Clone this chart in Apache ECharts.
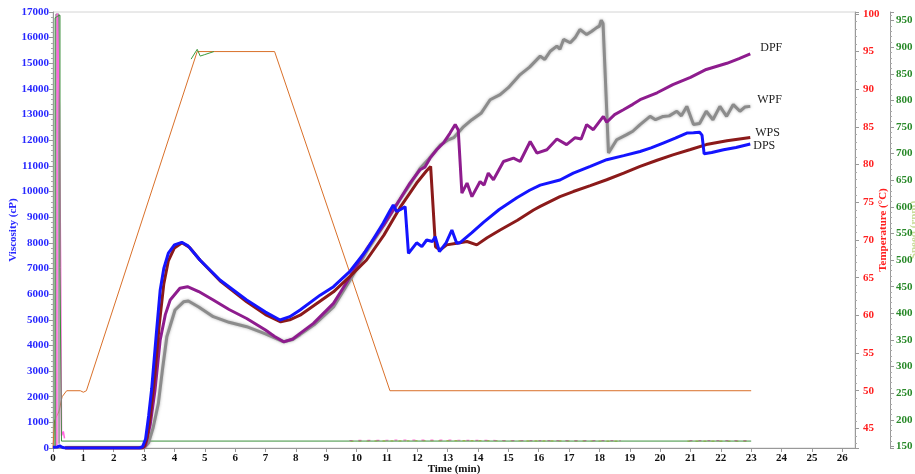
<!DOCTYPE html>
<html><head><meta charset="utf-8">
<script src="https://cdn.jsdelivr.net/npm/echarts@6/dist/echarts.min.js"></script>
<style>html,body{margin:0;padding:0;background:#fff}#c{width:915px;height:474px}</style>
</head><body><div id="c"></div>
<script>
// ---- data (time in min, viscosity in cP, temperature in °C, speed in rpm) ----
const xTicks = [0,1,2,3,4,5,6,7,8,9,10,11,12,13,14,15,16,17,18,19,20,21,22,23,24,25,26];

const DPS = [[0,30],[0.15,40],[0.22,80],[0.28,90],[0.32,20],[0.4,0],[2.85,0],[2.95,50],[3.05,350],[3.15,1250],[3.25,2300],[3.4,4400],[3.53,6150],[3.65,7000],[3.8,7600],[4.0,7920],[4.24,8020],[4.45,7880],[4.84,7330],[5.5,6550],[6.38,5770],[7.0,5300],[7.48,4990],[7.8,5120],[8.14,5380],[8.8,5960],[9.24,6290],[9.79,6900],[10.33,7720],[10.88,8770],[11.1,9250],[11.21,9480],[11.32,9220],[11.45,9300],[11.6,9410],[11.71,7590],[11.98,8000],[12.15,7850],[12.31,8110],[12.5,8050],[12.59,8240],[12.73,7660],[12.95,8000],[13.14,8500],[13.3,7980],[13.4,8000],[13.8,8400],[14.18,8800],[14.7,9300],[15.28,9760],[15.7,10050],[16.05,10250],[16.7,10450],[17.14,10720],[17.7,10980],[18.24,11240],[18.8,11400],[19.34,11560],[19.7,11700],[20.1,11890],[20.5,12080],[20.88,12280],[21.1,12290],[21.3,12310],[21.38,12200],[21.45,11470],[21.7,11520],[22.09,11630],[22.5,11720],[22.97,11850]];

const WPS = [[0.4,0],[2.9,0],[3.0,50],[3.1,400],[3.2,1200],[3.35,2800],[3.5,4800],[3.65,6400],[3.8,7300],[4.0,7800],[4.25,8000],[4.5,7820],[4.84,7330],[5.5,6520],[6.38,5700],[7.0,5200],[7.5,4920],[7.8,5000],[8.14,5180],[9.24,6090],[9.79,6700],[10.33,7330],[10.9,8300],[11.43,9370],[11.98,10330],[12.3,10800],[12.44,10980],[12.5,11000],[12.6,7850],[12.75,7720],[12.97,7920],[13.3,7980],[13.64,8050],[13.96,7920],[14.3,8200],[14.73,8500],[15.3,8880],[15.83,9280],[16.05,9420],[16.7,9800],[17.14,10000],[17.7,10230],[18.24,10460],[18.8,10720],[19.34,10980],[19.9,11220],[20.42,11430],[21.0,11640],[21.52,11830],[22.2,11980],[22.97,12110]];

const DPF = [[0.4,0],[2.95,0],[3.05,100],[3.2,900],[3.36,2250],[3.53,4200],[3.7,5200],[3.86,5770],[4.18,6230],[4.43,6290],[4.8,6100],[5.28,5770],[5.8,5400],[6.38,5050],[7.0,4600],[7.3,4350],[7.6,4140],[7.9,4250],[8.14,4470],[8.58,4860],[9.24,5640],[9.79,6680],[10.33,7750],[10.9,8700],[11.43,9700],[11.76,10330],[12.09,10850],[12.25,10950],[12.42,11300],[12.64,11630],[12.86,11890],[13.08,12280],[13.25,12610],[13.35,12400],[13.47,9940],[13.64,10330],[13.8,9800],[14.07,10390],[14.2,10250],[14.34,10720],[14.51,10460],[14.84,11170],[15.17,11300],[15.39,11170],[15.72,11950],[15.94,11500],[16.27,11630],[16.6,12050],[16.92,11830],[17.2,12100],[17.4,12050],[17.58,12610],[17.8,12410],[18.13,12930],[18.24,12700],[18.5,13000],[18.79,13190],[19.1,13400],[19.34,13580],[19.9,13850],[20.42,14170],[21.0,14450],[21.52,14760],[22.2,15000],[22.6,15180],[22.97,15370]];

const WPF = [[0.4,0],[3.0,0],[3.15,200],[3.3,800],[3.47,1730],[3.6,3000],[3.75,4340],[4.02,5380],[4.3,5700],[4.46,5730],[4.8,5500],[5.28,5120],[5.8,4900],[6.38,4730],[7.0,4450],[7.6,4140],[7.9,4230],[8.14,4420],[8.6,4800],[9.24,5500],[9.79,6550],[10.33,7650],[10.9,8700],[11.43,9700],[11.8,10350],[12.09,10900],[12.4,11300],[12.75,11800],[13.0,12000],[13.2,12100],[13.5,12500],[13.8,12800],[14.1,13050],[14.4,13580],[14.73,13780],[15.0,14050],[15.39,14560],[15.7,14850],[16.05,15280],[16.2,15150],[16.38,15470],[16.6,15670],[16.7,15550],[16.82,15930],[17.04,15800],[17.2,16000],[17.36,16320],[17.58,16120],[17.75,16250],[17.91,16390],[18.0,16450],[18.06,16680],[18.12,16550],[18.3,11500],[18.57,12020],[18.9,12220],[19.1,12350],[19.34,12610],[19.67,12930],[19.85,12800],[20.1,12930],[20.3,12950],[20.55,13130],[20.7,12950],[20.88,13320],[21.1,12610],[21.3,12650],[21.52,13130],[21.74,12800],[21.97,13320],[22.19,12930],[22.41,13390],[22.63,13130],[22.8,13300],[22.97,13320]];

const tempProfile = [[0,42.4],[0.04,42.5],[0.05,46.0],[0.2,47.3],[0.3,49.2],[0.45,50.0],[0.9,50.0],[1.0,49.8],[1.1,50.0],[4.75,95.0],[7.3,95.0],[11.1,50.0],[23,50.0]];
const tempB = [[4.55,94.0],[4.75,95.3],[4.85,94.4],[5.0,94.6],[5.3,95.0]];

const speedA = [[0.06,150],[0.07,955],[0.15,958],[0.23,960],[0.23,486],[0.28,486],[0.28,160],[23,160]];
const speedB = [[0.13,150],[0.14,963],[0.2,963],[0.21,790],[0.24,790],[0.25,500],[0.28,170],[0.34,178],[0.38,165]];
const speedC = [[0.09,150],[0.1,962],[0.19,962],[0.2,155]];
const speedNoiseP = [[9.6,161],[12,162],[15,161],[18.7,161],[18.7,null],[20.8,161],[23,161]];
const speedNoiseY = [[9.8,160],[13,161],[18.7,160],[18.7,null],[20.9,160],[23,160]];

const chart = echarts.init(document.getElementById('c'), null, {renderer:'canvas'});
const serif = 'Liberation Serif';
const plain = (v) => String(Math.round(v*100)/100);
const lbl = (c) => ({color:c, fontFamily:serif, fontWeight:'bold', fontSize:11, formatter:plain});
const endLbl = (t, off) => ({show:true, formatter:t, offset:off, color:'#222', fontFamily:serif, fontSize:12, distance:5});
const tickStyle = {show:true, length:4, lineStyle:{color:'#999'}};
const nameFont = (c) => ({color:c, fontFamily:serif, fontWeight:'bold', fontSize:11});

chart.setOption({
  animation:false,
  backgroundColor:'#fff',
  grid:{left:53, right:60, top:12, bottom:26, outerBoundsMode:'none', containLabel:false,
    show:true, borderColor:'#d4d4d4', borderWidth:1},
  xAxis:{type:'value', min:0, max:26.42, interval:1,
    axisLine:{show:true, lineStyle:{color:'#999'}}, axisTick:tickStyle,
    axisLabel:Object.assign(lbl('#111'), {showMaxLabel:false, margin:5}),
    splitLine:{show:false},
    name:'Time (min)', nameLocation:'middle', nameGap:16, nameMoveOverlap:false,
    nameTextStyle:nameFont('#111')},
  yAxis:[
    {type:'value', min:0, max:17000, interval:1000, position:'left',
      axisLine:{show:true, lineStyle:{color:'#999'}}, axisTick:tickStyle,
      minorTick:{show:true, splitNumber:5, length:2, lineStyle:{color:'#aaa'}},
      axisLabel:Object.assign(lbl('#2828ff'), {margin:4}), splitLine:{show:false},
      name:'Viscosity (cP)', nameLocation:'middle', nameGap:34, nameMoveOverlap:false,
      nameTextStyle:nameFont('#2828ff')},
    {type:'value', min:42.4, max:100.25, splitNumber:12, position:'right',
      axisLine:{show:true, lineStyle:{color:'#999'}}, axisTick:tickStyle,
      minorTick:{show:true, splitNumber:5, length:2, lineStyle:{color:'#aaa'}},
      axisLabel:Object.assign(lbl('#ff2020'), {showMinLabel:false, showMaxLabel:false, margin:8}), splitLine:{show:false},
      name:'Temperature (°C)', nameLocation:'middle', nameGap:23, nameMoveOverlap:false,
      nameTextStyle:nameFont('#ff2020')},
    {type:'value', min:147, max:966, splitNumber:16, position:'right', offset:35,
      axisLine:{show:true, lineStyle:{color:'#999'}}, axisTick:tickStyle,
      minorTick:{show:true, splitNumber:5, length:2, lineStyle:{color:'#aaa'}},
      axisLabel:Object.assign(lbl('#2a8a2a'), {showMinLabel:false, showMaxLabel:false, margin:6}), splitLine:{show:false},
      name:'Speed (rpm)', nameLocation:'middle', nameGap:19, nameMoveOverlap:false,
      nameTextStyle:nameFont('#c8dc9a')}
  ],
  series:[
    {type:'line', yAxisIndex:1, data:tempProfile, symbol:'none', lineStyle:{color:'#d9702a', width:1}},
    {type:'line', yAxisIndex:1, data:tempB, symbol:'none', lineStyle:{color:'#3c9a3c', width:1}},
    {type:'line', yAxisIndex:2, data:speedNoiseY, symbol:'none', connectNulls:false, lineStyle:{color:'#e8d060', width:1.2, type:[3,5]}},
    {type:'line', yAxisIndex:2, data:speedNoiseP, symbol:'none', connectNulls:false, lineStyle:{color:'#ff70d0', width:1.2, type:[3,6], dashOffset:4}},
    {type:'line', yAxisIndex:2, data:speedC, symbol:'none', lineStyle:{color:'#909090', width:1.5}},
    {type:'line', yAxisIndex:2, data:speedB, symbol:'none', lineStyle:{color:'#ff66dd', width:1.5}},
    {type:'line', yAxisIndex:2, data:speedA, symbol:'none', lineStyle:{color:'#3a8f3a', width:1}},
    {name:'WPF', type:'line', yAxisIndex:0, data:WPF, symbol:'none',
      lineStyle:{color:'#8c8c8c', width:3, shadowColor:'rgba(120,120,120,0.6)', shadowBlur:3}, endLabel:endLbl('WPF',[2,-7])},
    {name:'DPF', type:'line', yAxisIndex:0, data:DPF, symbol:'none',
      lineStyle:{color:'#8e1c8e', width:3}, endLabel:endLbl('DPF',[5,-6])},
    {name:'WPS', type:'line', yAxisIndex:0, data:WPS, symbol:'none',
      lineStyle:{color:'#8b1a1a', width:3}, endLabel:endLbl('WPS',[0,-5])},
    {name:'DPS', type:'line', yAxisIndex:0, data:DPS, symbol:'none',
      lineStyle:{color:'#1414ff', width:3}, endLabel:endLbl('DPS',[-2,2])}
  ]
});
</script></body></html>
